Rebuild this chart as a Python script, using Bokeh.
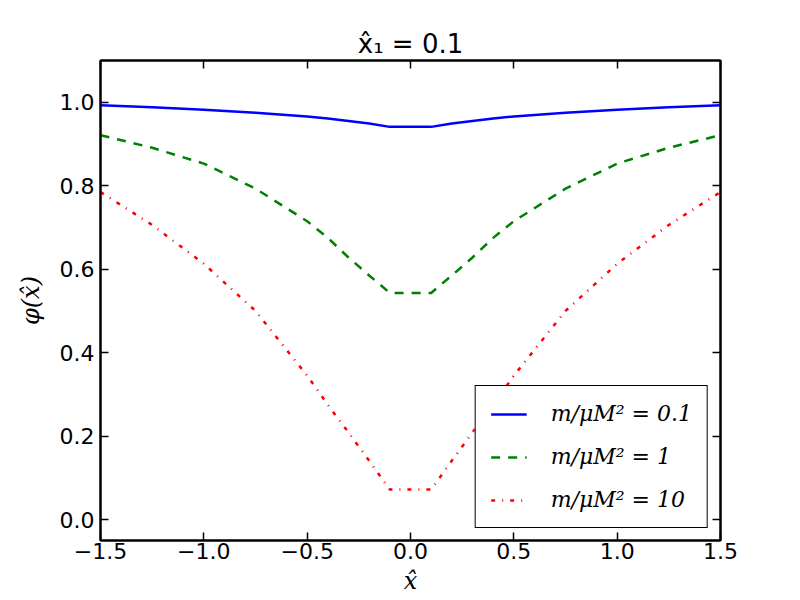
from bokeh.plotting import figure
from bokeh.models import Range1d, FixedTicker, LinearAxis, Legend, LegendItem
from bokeh.embed import file_html
from bokeh.resources import INLINE

# ---- data ----
x_hat = [-1.5, -1.25, -1.0, -0.75, -0.5, -0.4, -0.3, -0.2, -0.1,
         0.1, 0.2, 0.3, 0.4, 0.5, 0.75, 1.0, 1.25, 1.5]
phi_m01 = [0.993, 0.988, 0.982, 0.975, 0.966, 0.961, 0.955, 0.949, 0.941,
           0.941, 0.949, 0.955, 0.961, 0.966, 0.975, 0.982, 0.988, 0.993]
phi_m1 = [0.921, 0.891, 0.853, 0.793, 0.715, 0.675, 0.628, 0.585, 0.543,
          0.543, 0.585, 0.628, 0.675, 0.715, 0.793, 0.853, 0.891, 0.921]
phi_m10 = [0.785, 0.706, 0.613, 0.500, 0.345, 0.275, 0.209, 0.141, 0.072,
           0.072, 0.141, 0.209, 0.275, 0.345, 0.500, 0.613, 0.706, 0.785]

series_labels = ["m/μM² = 0.1", "m/μM² = 1", "m/μM² = 10"]
x_ticks = [-1.5, -1.0, -0.5, 0.0, 0.5, 1.0, 1.5]
x_tick_labels = ["−1.5", "−1.0", "−0.5", "0.0", "0.5", "1.0", "1.5"]
y_ticks = [0.0, 0.2, 0.4, 0.6, 0.8, 1.0]
y_tick_labels = ["0.0", "0.2", "0.4", "0.6", "0.8", "1.0"]
title_text = "x̂₁ = 0.1"
x_label = "x̂"
y_label = "φ(x̂)"

p = figure(width=800, height=600, output_backend="svg", toolbar_location=None,
           x_range=Range1d(-1.5, 1.5), y_range=Range1d(-0.05, 1.1),
           min_border_left=100, min_border_right=80, min_border_top=60,
           min_border_bottom=60, title=title_text)
p.background_fill_color = "white"
p.border_fill_color = "white"
p.outline_line_color = "black"
p.outline_line_width = 2
p.xgrid.visible = False
p.ygrid.visible = False

p.title.align = "center"
p.title.text_font = "DejaVu Sans"
p.title.text_font_size = "26px"
p.title.text_font_style = "normal"
p.title.text_color = "black"
p.title.standoff = 4

def style_axis(ax, ticks, labels, show_labels=True):
    ax.ticker = FixedTicker(ticks=ticks)
    ax.major_tick_in = 8
    ax.major_tick_out = 0
    ax.minor_tick_line_color = None
    ax.major_tick_line_width = 1.5
    ax.major_tick_line_color = "black"
    ax.axis_line_width = 2
    ax.axis_line_color = "black"
    ax.major_label_text_font = "DejaVu Sans"
    ax.major_label_text_font_size = "22px"
    ax.major_label_text_color = "black"
    if show_labels:
        ax.major_label_overrides = {t: l for t, l in zip(ticks, labels)}
    else:
        ax.major_label_overrides = {t: "" for t in ticks}
        ax.major_label_text_font_size = "0px"

style_axis(p.xaxis[0], x_ticks, x_tick_labels)
style_axis(p.yaxis[0], y_ticks, y_tick_labels)
p.xaxis[0].major_label_standoff = 2
p.yaxis[0].major_label_standoff = 6
p.xaxis[0].axis_label = x_label
p.yaxis[0].axis_label = y_label
for ax in (p.xaxis[0], p.yaxis[0]):
    ax.axis_label_text_font = "DejaVu Serif"
    ax.axis_label_text_font_style = "italic"
    ax.axis_label_text_font_size = "24px"
    ax.axis_label_text_color = "black"
p.xaxis[0].axis_label_standoff = 5
p.yaxis[0].axis_label_standoff = 12

top_ax = LinearAxis()
style_axis(top_ax, x_ticks, x_tick_labels, show_labels=False)
p.add_layout(top_ax, "above")
right_ax = LinearAxis()
style_axis(right_ax, y_ticks, y_tick_labels, show_labels=False)
p.add_layout(right_ax, "right")

r1 = p.line(x_hat, phi_m01, line_color="#0000ff", line_width=2.5)
r2 = p.line(x_hat, phi_m1, line_color="#008000", line_width=2.5, line_dash="9 8")
r3 = p.line(x_hat, phi_m10, line_color="#ff0000", line_width=2.5, line_dash="4 7 1 7")

legend = Legend(items=[LegendItem(label=series_labels[0], renderers=[r1]),
                       LegendItem(label=series_labels[1], renderers=[r2]),
                       LegendItem(label=series_labels[2], renderers=[r3])],
                location="bottom_right")
legend.margin = 12
legend.padding = 15
legend.spacing = 18
legend.glyph_width = 36
legend.glyph_height = 24
legend.label_height = 24
legend.label_standoff = 24
legend.label_text_font = "DejaVu Serif"
legend.label_text_font_style = "italic"
legend.label_text_font_size = "22px"
legend.label_text_color = "black"
legend.border_line_color = "black"
legend.border_line_width = 1
legend.border_line_alpha = 1
legend.background_fill_color = "white"
legend.background_fill_alpha = 1
p.add_layout(legend, "center")

open("out.html", "w").write(file_html(p, INLINE))
